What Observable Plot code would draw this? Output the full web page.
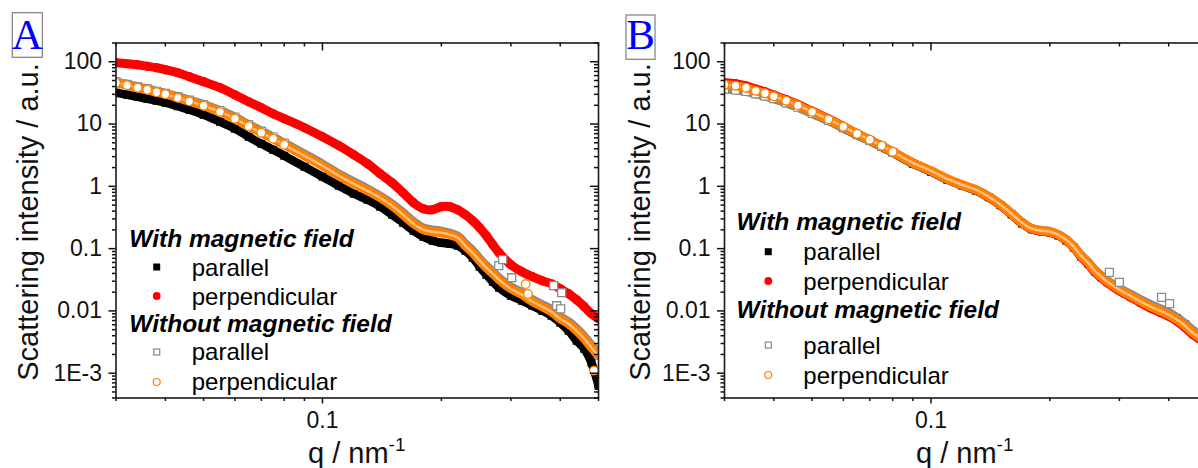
<!DOCTYPE html>
<html><head><meta charset="utf-8">
<script src="https://cdn.jsdelivr.net/npm/d3@7"></script>
<script src="https://cdn.jsdelivr.net/npm/@observablehq/plot@0.6"></script>
<style>
html,body{margin:0;padding:0;background:#fff;}
#wrap{position:relative;width:1198px;height:468px;overflow:hidden;background:#fff;}
#wrap > svg{position:absolute;top:0;}
</style></head><body><div id="wrap"></div>
<script>
// ---------- data ----------
const qGrid = [0.030,0.032,0.034,0.036,0.038,0.040,0.043,0.046,0.050,0.055,0.060,0.065,0.070,0.075,0.080,0.090,0.100,
  0.110,0.120,0.130,0.140,0.150,0.160,0.170,0.180,0.190,0.200,0.210,0.220,0.230,0.240,0.250,0.260,0.270,0.280,
  0.300,0.320,0.340,0.360,0.380,0.400,0.420,0.440,0.460,0.480,0.500];

// Panel A
const aBlack = [31.8,29.5,27.4,25.5,23.7,22.0,19.3,17.0,14.1,10.9,8.41,6.25,4.83,3.87,3.10,2.06,1.43,
  1.02,0.761,0.609,0.471,0.350,0.261,0.194,0.155,0.134,0.124,0.120,0.1114,0.0925,0.0714,0.0512,0.0381,0.0294,0.0236,
  0.0175,0.0146,0.0121,0.0101,0.00837,0.00646,0.00481,0.00332,0.00247,0.00147,0.00063];
const aRed = [96.4,92.9,89.5,84.7,80.1,74.4,66.6,57.5,47.8,38.3,29.5,22.8,18.3,14.6,12.2,8.72,6.25,
  4.49,3.21,2.31,1.59,1.14,0.789,0.546,0.437,0.421,0.471,0.471,0.421,0.350,0.281,0.217,0.161,0.1155,0.0859,
  0.0552,0.0426,0.0354,0.0305,0.0273,0.0227,0.0189,0.0151,0.0117,0.0090,0.0075];
const aGray = [47.5,43.5,39.8,36.8,33.6,31.2,27.5,24.2,20.6,16.5,12.9,9.8,7.7,6.2,4.95,3.30,2.28,
  1.58,1.18,0.91,0.70,0.525,0.378,0.272,0.216,0.199,0.191,0.178,0.160,0.120,0.093,0.069,0.053,0.0425,0.034,
  0.0245,0.0196,0.0152,0.0126,0.0105,0.0081,0.0067,0.0052,0.0039,0.0028,0.0021];
const aOrange = [46.0,42.0,38.3,35.5,32.4,30.1,26.4,23.2,19.7,15.7,12.2,9.22,7.25,5.81,4.65,3.10,2.14,
  1.48,1.10,0.850,0.656,0.489,0.350,0.251,0.201,0.187,0.180,0.167,0.150,0.111,0.0859,0.0640,0.0493,0.0395,0.0317,
  0.0227,0.0182,0.0141,0.0117,0.0097,0.0075,0.0062,0.0048,0.0036,0.00257,0.00191];
const aGrayOutQ = [0.2795,0.286,0.3014,0.385,0.4034,0.3918,0.401];
const aGrayOutI = [0.0532,0.0664,0.0341,0.0254,0.0196,0.0121,0.0108];
const aOrangeOutQ = [0.327,0.3315,0.487];
const aOrangeOutI = [0.0270,0.0187,0.0011];

// Panel B
const bBlack = [37.5,36.0,34.0,31.0,28.5,25.8,22.0,18.7,14.8,11.3,8.6,6.65,5.35,4.30,3.45,2.30,1.72,
  1.28,1.03,0.855,0.665,0.495,0.352,0.254,0.204,0.190,0.183,0.163,0.135,0.104,0.0745,0.0578,0.0432,0.0348,0.0292,
  0.0220,0.0178,0.0145,0.0121,0.0105,0.0091,0.0076,0.0061,0.0047,0.0039,0.0034];
const bRed = [46.0,44.5,41.0,36.5,33.0,29.2,24.6,20.7,16.1,12.1,9.15,7.0,5.55,4.45,3.55,2.36,1.75,
  1.30,1.04,0.87,0.67,0.50,0.357,0.257,0.206,0.191,0.184,0.164,0.136,0.104,0.074,0.057,0.042,0.0340,0.0283,
  0.0210,0.0167,0.0134,0.0111,0.0095,0.0082,0.0068,0.0054,0.0042,0.0035,0.0030];
const bGray = [36.5,35.2,33.3,30.5,28.0,25.5,21.8,18.6,14.9,11.4,8.7,6.75,5.45,4.40,3.52,2.36,1.76,
  1.31,1.05,0.875,0.69,0.515,0.37,0.266,0.212,0.197,0.190,0.168,0.140,0.108,0.078,0.0605,0.0455,0.0367,0.0306,
  0.0230,0.0186,0.0151,0.0126,0.0109,0.0094,0.0078,0.0063,0.0049,0.0040,0.0035];
const bOrange = [42.7,41.2,38.3,34.2,31.2,27.9,23.7,20.0,15.7,11.9,9.05,6.98,5.60,4.49,3.59,2.39,1.78,
  1.32,1.06,0.882,0.681,0.507,0.363,0.261,0.209,0.194,0.187,0.167,0.139,0.107,0.0769,0.0594,0.0442,0.0354,0.0294,
  0.0219,0.0175,0.0141,0.0117,0.0101,0.0087,0.0072,0.00578,0.00447,0.00371,0.00320];
const bGrayOutQ = [0.283,0.300,0.3835,0.402];
const bGrayOutI = [0.0415,0.0287,0.0165,0.0131];

// ticks & labels
const xMajor = [0.1];
const xMajorLabels = ["0.1"];
const xMinor = [0.03,0.04,0.05,0.06,0.07,0.08,0.09,0.2,0.3,0.4,0.5];
const yMajor = [100,10,1,0.1,0.01,0.001];
const yMajorLabels = ["100","10","1","0.1","0.01","1E-3"];
const yMinor = [];
for (const e of [-4,-3,-2,-1,0,1,2]) for (let m = 2; m <= 9; m++) {
  const v = +(m * Math.pow(10, e)).toPrecision(3);
  if (v >= 4e-4 && v <= 200) yMinor.push(v);
}
const panelLetters = ["A","B"];
const yTitle = "Scattering intensity / a.u.";
const legendGroups = ["With magnetic field","Without magnetic field"];
const legendItems = ["parallel","perpendicular"];

// ---------- styles ----------
const C = {black:"#000000", red:"#ff0000", gray:"#8a8a8a", orange:"#ff8000"};
const FONT = "'Liberation Sans', Arial, Helvetica, sans-serif";
const FW = 482.5, FH = 355;

function rows(q, v){ return q.map((d,i)=>({q:d, I:v[i]})); }

function panel(S, left, mL, W){
  const lo = {x:"q", y:"I", curve:"catmull-rom", clip:true, strokeLinejoin:"round", strokeLinecap:"round"};
  const po = {x:"q", y:"I", clip:true};
  const k = rows(qGrid, S.black), r = rows(qGrid, S.red), g = rows(qGrid, S.gray), o = rows(qGrid, S.orange);
  const marks = [
    Plot.line(k, {...lo, stroke:C.black, strokeWidth:8.5}),
    Plot.dot(k, {...po, symbol:"square", r:4.5, fill:C.black}),
    Plot.line(r, {...lo, stroke:C.red, strokeWidth:9}),
    Plot.dot(r, {...po, r:4.6, fill:C.red}),
    Plot.line(g, {...lo, stroke:C.gray, strokeWidth:9}),
    Plot.dot(g, {...po, symbol:"square", r:4.5, fill:"white", stroke:C.gray, strokeWidth:1.2, filter:d=>d.q<=0.08}),
    Plot.line(o, {...lo, stroke:C.orange, strokeWidth:9}),
    Plot.line(o, {...lo, stroke:"white", strokeWidth:2.5, strokeOpacity:0.5, strokeDasharray:"3 2"}),
    Plot.dot(o, {...po, r:4.3, fill:"white", stroke:C.orange, strokeWidth:1.3, filter:d=>d.q<=0.08}),
    Plot.dot(rows(S.grayOutQ, S.grayOutI), {...po, symbol:"square", r:4.5, fill:"white", stroke:C.gray, strokeWidth:1.3}),
  ];
  if (S.orangeOutQ) marks.push(Plot.dot(rows(S.orangeOutQ, S.orangeOutI), {...po, r:4.3, fill:"white", stroke:C.orange, strokeWidth:1.3}));
  marks.push(
    Plot.axisX(xMajor, {anchor:"bottom", tickSize:6, tickPadding:8, tickFormat:d=>xMajorLabels[xMajor.indexOf(d)], label:null, strokeWidth:1.5}),
    Plot.axisX(xMinor, {anchor:"bottom", tickSize:3.5, tickFormat:()=>"", label:null, strokeWidth:1.5}),
    Plot.tickX(xMajor, {x:d=>d, insetBottom:FH-8, strokeWidth:1.5}),
    Plot.tickX(xMinor, {x:d=>d, insetBottom:FH-4, strokeWidth:1.5}),
    Plot.axisY(yMajor, {anchor:"left", tickSize:7, tickPadding:7, tickFormat:d=>yMajorLabels[yMajor.indexOf(d)], label:null, strokeWidth:1.5}),
    Plot.axisY(yMinor, {anchor:"left", tickSize:3.5, tickFormat:()=>"", label:null, strokeWidth:1.5}),
    Plot.tickY(yMajor, {y:d=>d, insetLeft:FW-8, strokeWidth:1.5}),
    Plot.tickY(yMinor, {y:d=>d, insetLeft:FW-4, strokeWidth:1.5}),
    Plot.frame({stroke:"#1a1a1a", strokeWidth:1.6})
  );
  const svg = Plot.plot({
    width: W, height: 468,
    marginLeft: mL, marginRight: W - mL - FW, marginTop: 42.5, marginBottom: 468 - 42.5 - FH,
    x: {type:"log", domain:[0.03,0.5], label:null},
    y: {type:"log", domain:[4e-4,200], label:null},
    style: {fontFamily: FONT, fontSize:"23px", color:"#111", background:"transparent", overflow:"visible"},
    marks
  });
  svg.style.left = left + "px";
  return svg;
}

const wrap = document.getElementById("wrap");
wrap.appendChild(panel({black:aBlack, red:aRed, gray:aGray, orange:aOrange,
  grayOutQ:aGrayOutQ, grayOutI:aGrayOutI, orangeOutQ:aOrangeOutQ, orangeOutI:aOrangeOutI}, 0, 115.5, 604));
wrap.appendChild(panel({black:bBlack, red:bRed, gray:bGray, orange:bOrange,
  grayOutQ:bGrayOutQ, grayOutI:bGrayOutI}, 604, 120, 610));

// ---------- overlay: titles, panel letters, legends ----------
const ov = d3.select(wrap).append("svg").attr("width",1198).attr("height",468)
  .style("left","0px").style("font-family",FONT);

const layout = [
  {box:[12.3,12.7,30,44.6], letterX:27.3, letterY:49, yTitleX:38, xTitleX:308,
   gx:129.3, mx:156.7, tx:191.7, gy:[247,331.5], ty:[276,305,360,390], my:[267,296,352,382]},
  {box:[626,15,29,44.3], letterX:640.5, letterY:49, yTitleX:650, xTitleX:916,
   gx:736.5, mx:768.3, tx:803.3, gy:[230,317.5], ty:[260.3,290.3,353.7,383.7], my:[251.7,281,345,375]}
];
layout.forEach((L, p) => {
  ov.append("rect").attr("x",L.box[0]).attr("y",L.box[1]).attr("width",L.box[2]).attr("height",L.box[3])
    .attr("fill","white").attr("stroke","#7f7f7f").attr("stroke-width",1.2);
  ov.append("text").attr("x",L.letterX).attr("y",L.letterY).attr("text-anchor","middle")
    .attr("font-family","'Liberation Serif','Times New Roman',serif").attr("font-size",43).attr("fill","#0000ff")
    .text(panelLetters[p]);
  ov.append("text").attr("transform",`translate(${L.yTitleX},222) rotate(-90)`).attr("text-anchor","middle")
    .attr("font-size",29).attr("fill","#111").text(yTitle);
  const xt = ov.append("text").attr("x",L.xTitleX).attr("y",463).attr("font-size",29).attr("fill","#111");
  xt.append("tspan").text("q / nm");
  xt.append("tspan").attr("font-size",19).attr("dy",-12).text("-1");
  // legend
  legendGroups.forEach((gname, gi) => {
    ov.append("text").attr("x",L.gx).attr("y",L.gy[gi]).attr("font-size",24.5).attr("font-weight","bold")
      .attr("font-style","italic").attr("fill","#000").text(gname);
  });
  legendItems.concat(legendItems).forEach((it, i) => {
    ov.append("text").attr("x",L.tx).attr("y",L.ty[i]).attr("font-size",24).attr("fill","#000").text(it);
  });
  const s = 7;
  ov.append("rect").attr("x",L.mx-s/2).attr("y",L.my[0]-s/2).attr("width",s).attr("height",s).attr("fill",C.black);
  ov.append("circle").attr("cx",L.mx).attr("cy",L.my[1]).attr("r",3.9).attr("fill",C.red);
  ov.append("rect").attr("x",L.mx-s/2+0.5).attr("y",L.my[2]-s/2+0.5).attr("width",s-1).attr("height",s-1)
    .attr("fill","white").attr("stroke",C.gray).attr("stroke-width",1.2);
  ov.append("circle").attr("cx",L.mx).attr("cy",L.my[3]).attr("r",3.5).attr("fill","white")
    .attr("stroke",C.orange).attr("stroke-width",1.2);
});
</script></body></html>
